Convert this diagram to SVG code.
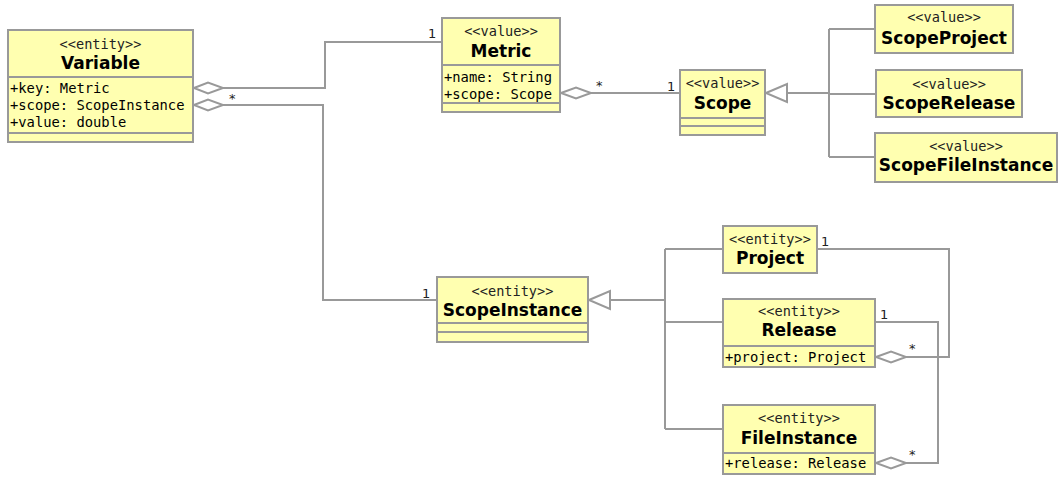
<svg xmlns="http://www.w3.org/2000/svg" width="1060" height="477" viewBox="0 0 1060 477">
  <style>
    .box { fill: #ffffb0; stroke: #999999; stroke-width: 2; }
    .sep { stroke: #999999; stroke-width: 2; fill: none; }
    .st { font-family: "DejaVu Sans Mono", monospace; font-size: 13.6px; fill: #222; text-anchor: middle; }
    .nm { font-family: "DejaVu Sans", sans-serif; font-size: 17px; font-weight: bold; fill: #000; text-anchor: middle; }
    .at { font-family: "DejaVu Sans Mono", monospace; font-size: 13.8px; fill: #000; }
    .ln { stroke: #999999; stroke-width: 2; fill: none; }
    .agg { stroke: #999999; stroke-width: 2; fill: #ffffff; }
    .mul { font-family: "DejaVu Sans", sans-serif; font-size: 13px; fill: #222; }
  </style>
  <rect width="1060" height="477" fill="#ffffff"/>

  <!-- connectors -->
  <g id="connectors">
    <!-- Variable.key -> Metric -->
    <path class="ln" d="M223,88 H325 V42 H442"/>
    <polygon class="agg" points="194,88 208,82.5 223,88 208,93.5"/>
    <text class="mul" x="428" y="38">1</text>
    <!-- Variable.scope -> ScopeInstance -->
    <path class="ln" d="M223,105 H323 V300 H437"/>
    <polygon class="agg" points="194,105 208,99.5 223,105 208,110.5"/>
    <text class="mul" x="229" y="103">*</text>
    <text class="mul" x="422" y="298">1</text>
    <!-- Metric.scope -> Scope -->
    <path class="ln" d="M591,93 H680"/>
    <polygon class="agg" points="561,93 576,87.5 591,93 576,98.5"/>
    <text class="mul" x="596" y="90">*</text>
    <text class="mul" x="667" y="91">1</text>
    <!-- Scope generalizations -->
    <path class="ln" d="M787,93 H829 M829,29 V157 M829,29 H875 M829,94 H876 M829,157 H875"/>
    <polygon class="agg" points="766,93 787,84 787,102"/>
    <!-- ScopeInstance generalizations -->
    <path class="ln" d="M610,300 H665 M665,249 V429 M665,249 H723 M665,322 H723 M665,429 H723"/>
    <polygon class="agg" points="589,300 610,291 610,309"/>
    <!-- Release.project -> Project -->
    <path class="ln" d="M817,249 H949 V357 H906"/>
    <polygon class="agg" points="876,357 891,351.5 906,357 891,362.5"/>
    <text class="mul" x="821" y="246">1</text>
    <text class="mul" x="909" y="353">*</text>
    <!-- FileInstance.release -> Release -->
    <path class="ln" d="M875,322 H938 V463 H906"/>
    <polygon class="agg" points="876,463 891,457.5 906,463 891,468.5"/>
    <text class="mul" x="880" y="319">1</text>
    <text class="mul" x="909" y="459">*</text>
  </g>

  <g id="Variable">
    <rect class="box" x="8" y="30" width="185" height="112"/>
    <path class="sep" d="M8,77 H193 M8,133 H193"/>
    <text class="st" x="100.5" y="49">&lt;&lt;entity&gt;&gt;</text>
    <text class="nm" x="100.5" y="69">Variable</text>
    <text class="at" x="10" y="93">+key: Metric</text>
    <text class="at" x="10" y="110">+scope: ScopeInstance</text>
    <text class="at" x="10" y="127">+value: double</text>
  </g>

  <g id="Metric">
    <rect class="box" x="442" y="18" width="118" height="94"/>
    <path class="sep" d="M442,65 H560 M442,103 H560"/>
    <text class="st" x="501" y="36">&lt;&lt;value&gt;&gt;</text>
    <text class="nm" x="501" y="57">Metric</text>
    <text class="at" x="444" y="82">+name: String</text>
    <text class="at" x="444" y="99">+scope: Scope</text>
  </g>

  <g id="Scope">
    <rect class="box" x="680" y="70" width="85" height="65"/>
    <path class="sep" d="M680,118 H765 M680,126 H765"/>
    <text class="st" x="722.5" y="88">&lt;&lt;value&gt;&gt;</text>
    <text class="nm" x="722.5" y="109">Scope</text>
  </g>

  <g id="ScopeProject">
    <rect class="box" x="875" y="5" width="138" height="48"/>
    <text class="st" x="944" y="22">&lt;&lt;value&gt;&gt;</text>
    <text class="nm" x="944" y="44">ScopeProject</text>
  </g>

  <g id="ScopeRelease">
    <rect class="box" x="876" y="70" width="146" height="47"/>
    <text class="st" x="949" y="89">&lt;&lt;value&gt;&gt;</text>
    <text class="nm" x="949" y="109">ScopeRelease</text>
  </g>

  <g id="ScopeFileInstance">
    <rect class="box" x="875" y="133" width="182" height="49"/>
    <text class="st" x="966" y="151">&lt;&lt;value&gt;&gt;</text>
    <text class="nm" x="966" y="171">ScopeFileInstance</text>
  </g>

  <g id="ScopeInstance">
    <rect class="box" x="437" y="277" width="151" height="65"/>
    <path class="sep" d="M437,323 H588 M437,332 H588"/>
    <text class="st" x="512.5" y="296">&lt;&lt;entity&gt;&gt;</text>
    <text class="nm" x="512.5" y="316">ScopeInstance</text>
  </g>

  <g id="Project">
    <rect class="box" x="723" y="226" width="94" height="47"/>
    <text class="st" x="770" y="244">&lt;&lt;entity&gt;&gt;</text>
    <text class="nm" x="770" y="264">Project</text>
  </g>

  <g id="Release">
    <rect class="box" x="723" y="299" width="152" height="68"/>
    <path class="sep" d="M723,346 H875"/>
    <text class="st" x="799" y="316">&lt;&lt;entity&gt;&gt;</text>
    <text class="nm" x="799" y="336">Release</text>
    <text class="at" x="725" y="362">+project: Project</text>
  </g>

  <g id="FileInstance">
    <rect class="box" x="723" y="405" width="152" height="69"/>
    <path class="sep" d="M723,453 H875"/>
    <text class="st" x="799" y="423">&lt;&lt;entity&gt;&gt;</text>
    <text class="nm" x="799" y="444">FileInstance</text>
    <text class="at" x="725" y="468">+release: Release</text>
  </g>
</svg>
